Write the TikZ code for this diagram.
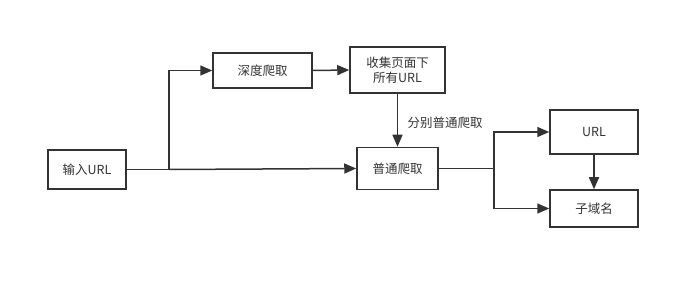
\documentclass[tikz,border=0pt]{standalone}
\usepackage{fontspec}
\setmainfont{Noto Sans CJK SC}
\usetikzlibrary{arrows.meta}

\definecolor{linegray}{HTML}{333333}

\begin{document}
\begin{tikzpicture}[x=1pt, y=-1pt,
    box/.style={draw=linegray, line width=1.5pt, fill=white, align=center,
      inner sep=0pt, font=\fontsize{12.5}{15.5}\selectfont, text=linegray},
    arr/.style={draw=linegray, line width=1.5pt, -{Triangle[length=12pt,width=10pt]}}]
  \useasboundingbox (0,0) rectangle (700,288);

  % Boxes
  \node[box, minimum width=78pt, minimum height=39pt] (input) at (87,169.5) {输入URL};
  \node[box, minimum width=99pt, minimum height=35pt] (deep) at (262.5,70.5) {深度爬取};
  \node[box, minimum width=95pt, minimum height=46pt] (collect) at (397.5,70) {收集页面下\\所有URL};
  \node[box, minimum width=81pt, minimum height=42pt] (normal) at (397.5,168.5) {普通爬取};
  \node[box, minimum width=88pt, minimum height=44pt] (url) at (594,132) {URL};
  \node[box, minimum width=88pt, minimum height=37pt] (sub) at (594,208.5) {子域名};

  % Split points
  \coordinate (split1) at (169,169.5);
  \coordinate (split2) at (494,168.5);

  % Connectors from the input
  \draw[arr] (input.east) -- (split1) |- (deep.west);
  \draw[arr] (split1) -- (normal.west);
  \draw[arr] (deep.east) -- (collect.west);

  % Collected URLs go back to normal crawling
  \draw[arr] (collect.south) -- (normal.north)
    node[pos=0.55, right=6pt, font=\fontsize{12.5}{15.5}\selectfont, text=linegray] (lbl) {分别普通爬取};

  % Results
  \draw[arr] (normal.east) -- (split2) |- (url.west);
  \draw[arr] (split2) |- (sub.west);
  \draw[arr] (url.south) -- (sub.north);
\end{tikzpicture}
\end{document}
